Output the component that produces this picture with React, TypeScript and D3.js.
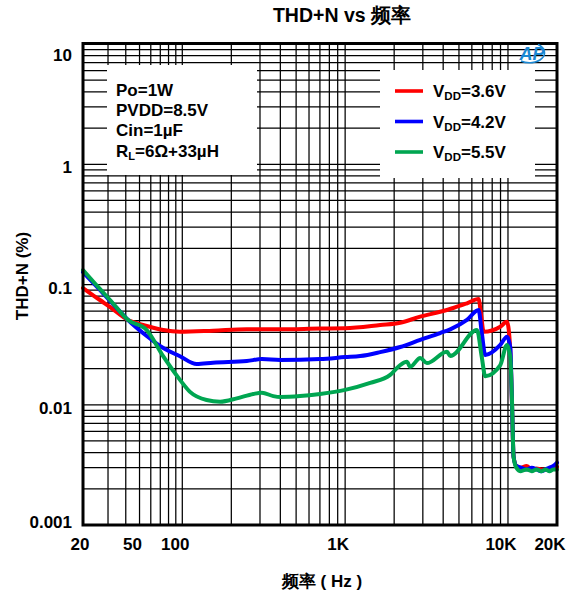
import React from "react";
import * as d3 from "d3";

const FONT = "'Liberation Sans', Arial, Helvetica, sans-serif";

// frequency ticks (grid) and labels
const xTickLabels: [number, string][] = [
  [20, "20"], [50, "50"], [100, "100"], [1000, "1K"], [10000, "10K"], [20000, "20K"],
];
const yTickLabels: [number, string][] = [
  [10, "10"], [1, "1"], [0.1, "0.1"], [0.01, "0.01"], [0.001, "0.001"],
];

// Series: VDD = 3.6V (red)
const redFreq = [20, 26.3, 31, 41.5, 50.4, 56.2, 73.5, 96.3, 154.5, 249, 399, 702, 1000, 1641, 2178, 2891, 3837, 4612, 5598, 6597, 6850, 7080, 8970, 9860, 10330, 10580, 10824, 11250, 12000, 13000, 14000, 15000, 16000, 17000, 18000, 19000, 20000];
const redTHD = [0.0935, 0.0743, 0.065, 0.0507, 0.0469, 0.0452, 0.0418, 0.0405, 0.0413, 0.0424, 0.0424, 0.043, 0.0432, 0.046, 0.0481, 0.054, 0.0594, 0.0638, 0.0698, 0.0757, 0.055, 0.0405, 0.0446, 0.049, 0.0285, 0.0103, 0.0037, 0.0031, 0.003, 0.0031, 0.0029, 0.00295, 0.0029, 0.0029, 0.0029, 0.003, 0.00305];

// Series: VDD = 4.2V (blue)
const blueFreq = [20, 26.3, 31, 41.5, 56.2, 73.5, 96.3, 122.6, 154.5, 249, 308, 399, 702, 1000, 1237, 1641, 2178, 2891, 3837, 4421, 5598, 6597, 6900, 7254, 8970, 9860, 10330, 10580, 10824, 11250, 12000, 13000, 14000, 15000, 16000, 17000, 18000, 19000, 20000];
const blueTHD = [0.127, 0.09, 0.0732, 0.0507, 0.0373, 0.0296, 0.0253, 0.0218, 0.0224, 0.0231, 0.024, 0.0236, 0.024, 0.0249, 0.0254, 0.0274, 0.0302, 0.0346, 0.0395, 0.0424, 0.0507, 0.0614, 0.04, 0.0259, 0.0314, 0.0368, 0.03, 0.0105, 0.0037, 0.0031, 0.003, 0.0029, 0.003, 0.0029, 0.0028, 0.0029, 0.003, 0.0031, 0.0033];

// Series: VDD = 5.5V (green)
const greenFreq = [20, 26.3, 31, 41.5, 56.2, 73.5, 96.3, 111.5, 141, 170.5, 216, 273, 308, 362, 399, 529, 702, 1000, 1425, 1891, 2178, 2394, 2509, 2891, 3178, 4219, 4421, 6450, 6900, 7254, 8970, 9860, 10330, 10580, 10824, 11250, 12000, 13000, 14000, 15000, 16000, 17000, 18000, 19000, 20000];
const greenTHD = [0.132, 0.0918, 0.0743, 0.0507, 0.0418, 0.0252, 0.0161, 0.0128, 0.01095, 0.0106, 0.0113, 0.0123, 0.0126, 0.0118, 0.0116, 0.0118, 0.0123, 0.0133, 0.0152, 0.0177, 0.0214, 0.0228, 0.0207, 0.0245, 0.0222, 0.0276, 0.0254, 0.0418, 0.025, 0.0173, 0.0214, 0.0314, 0.025, 0.011, 0.0037, 0.003, 0.0028, 0.0029, 0.0028, 0.0029, 0.0028, 0.0029, 0.0028, 0.0029, 0.0029];

const seriesNames = ["3.6V", "4.2V", "5.5V"];
const seriesColors = ["#ff0000", "#0000ff", "#00a651"];
const conditions = ["Po=1W", "PVDD=8.5V", "Cin=1µF"];

export default function App() {
  const W = 576, H = 592;
  const L = 83, R = 557, T = 44, B = 525;
  const x = d3.scaleLog().domain([20, 100, 20000]).range([L, 182.3, R]);
  const y = d3.scaleLog().domain([0.001, 10]).range([B, T]);

  const vGrid: number[] = [];
  for (const dec of [10, 100, 1000, 10000]) {
    for (let k = 1; k <= 9; k++) {
      const f = dec * k;
      if (f > 20 && f < 20000) vGrid.push(f);
    }
  }
  const hGrid: number[] = [];
  for (const dec of [0.001, 0.01, 0.1, 1]) {
    for (let k = 1; k <= 9; k++) {
      const v = dec * k;
      if (v > 0.001) hGrid.push(v);
    }
  }

  const line = d3
    .line<[number, number]>()
    .x((d) => x(d[0]))
    .y((d) => y(d[1]))
    .curve(d3.curveMonotoneX);

  const series = [
    redFreq.map((f, i) => [f, redTHD[i]] as [number, number]),
    blueFreq.map((f, i) => [f, blueTHD[i]] as [number, number]),
    greenFreq.map((f, i) => [f, greenTHD[i]] as [number, number]),
  ];

  return (
    <div style={{ position: "absolute", left: 0, top: 0 }}>
      <svg width={W} height={H} style={{ display: "block", fontFamily: FONT }}>
        <rect width={W} height={H} fill="#fff" />
        {/* title */}
        <text x={342} y={22} textAnchor="middle" fontSize={19.5} fontWeight="bold">
          THD+N vs 频率
        </text>

        {/* grid */}
        <g stroke="#000" strokeWidth={1.25}>
          {vGrid.map((f) => (
            <line key={"v" + f} x1={x(f)} x2={x(f)} y1={T} y2={B} />
          ))}
          {hGrid.map((v) => (
            <line key={"h" + v} x1={L} x2={R} y1={y(v)} y2={y(v)} />
          ))}
        </g>

        {/* info boxes */}
        <rect x={107} y={65} width={150} height={110} fill="#fff" />
        <rect x={380} y={70} width={155} height={108} fill="#fff" />

        {/* curves */}
        <g fill="none" strokeWidth={4} strokeLinejoin="round" strokeLinecap="round">
          {series.map((s, i) => (
            <path key={i} d={line(s) || ""} stroke={seriesColors[i]} />
          ))}
        </g>

        {/* border */}
        <rect x={L} y={T - 0.5} width={R - L} height={B - T + 0.5} fill="none" stroke="#000" strokeWidth={3} />

        {/* logo */}
        <g>
          <text x={532} y={60} textAnchor="middle" fontSize={18} fontStyle="italic" fontWeight="bold" fill="#1b87d2" fontFamily={FONT}>
            AP
          </text>
          <path d="M 521 61 A 15 10 0 1 0 538 44.5" fill="none" stroke="#1b87d2" strokeWidth={1.6} />
        </g>

        {/* conditions text */}
        <g fontSize={17} fontWeight="bold">
          {conditions.map((c, i) => (
            <text key={c} x={116} y={95.5 + i * 20.3}>
              {c}
            </text>
          ))}
          <text x={116} y={156.5}>
            R<tspan fontSize={11} dy={3}>L</tspan>
            <tspan dy={-3}>=6Ω+33µH</tspan>
          </text>
        </g>

        {/* legend */}
        <g fontSize={17} fontWeight="bold">
          {seriesNames.map((n, i) => (
            <g key={n}>
              <line x1={395} x2={423} y1={91 + i * 30.5} y2={91 + i * 30.5} stroke={seriesColors[i]} strokeWidth={3.6} />
              <text x={433} y={97 + i * 30.5}>
                V<tspan fontSize={11.5} dy={3}>DD</tspan>
                <tspan dy={-3}>={n}</tspan>
              </text>
            </g>
          ))}
        </g>

        {/* y tick labels */}
        <g fontSize={17} fontWeight="bold" textAnchor="end">
          {yTickLabels.map(([v, s]) => (
            <text key={s} x={72} y={Math.min(Math.max(y(v) + 3, 55), 522)} dy="0.36em">
              {s}
            </text>
          ))}
        </g>

        {/* x tick labels */}
        <g fontSize={17} fontWeight="bold" textAnchor="middle">
          {xTickLabels.map(([f, s]) => (
            <text key={s} x={Math.max(x(f) - 7, 80)} y={550}>
              {s}
            </text>
          ))}
        </g>

        {/* axis titles */}
        <text x={322} y={587} textAnchor="middle" fontSize={17} fontWeight="bold">
          频率 ( Hz )
        </text>
        <text transform="translate(28,276) rotate(-90)" textAnchor="middle" fontSize={17} fontWeight="bold">
          THD+N (%)
        </text>
      </svg>
    </div>
  );
}
